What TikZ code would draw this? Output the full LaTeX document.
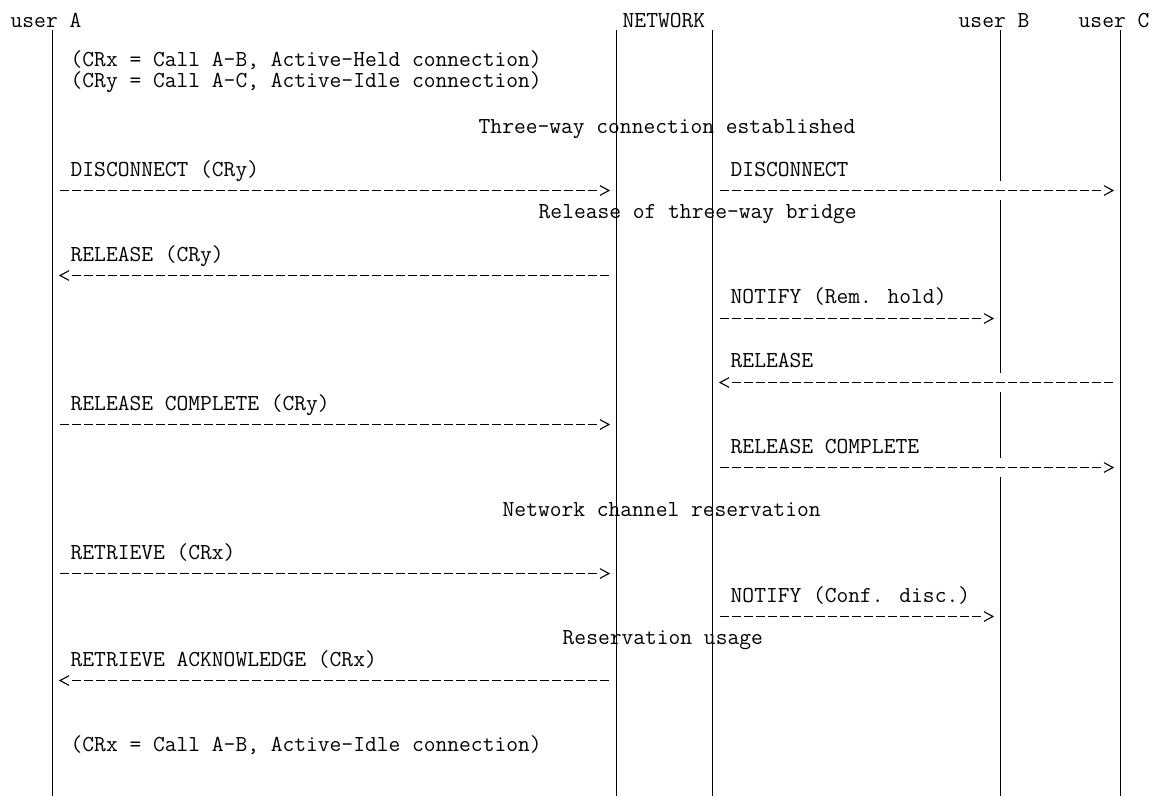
\documentclass[tikz,border=0pt]{standalone}
\usepackage{fontspec}
\newcommand\rmsg[2]{%
  \draw[dsh] ([xshift=7.5pt]#1) -- ([xshift=-19.5pt]#2);
  \draw[chev] ([xshift=-16.5pt,yshift=4.8pt]#2) -- ([xshift=-7.5pt]#2) -- ([xshift=-16.5pt,yshift=-4.8pt]#2);}
\newcommand\lmsg[2]{%
  \draw[dsh] ([xshift=19.5pt]#1) -- ([xshift=-7.5pt]#2);
  \draw[chev] ([xshift=16.5pt,yshift=4.8pt]#1) -- ([xshift=7.5pt]#1) -- ([xshift=16.5pt,yshift=-4.8pt]#1);}
\begin{document}
\begin{tikzpicture}[x=1pt,y=-1pt,
  life/.style={line width=1.8pt},
  dsh/.style={line width=1.3pt, dash pattern=on 9pt off 3pt},
  chev/.style={line width=1.1pt, line join=miter},
  lbl/.style={inner sep=0pt, anchor=base west, align=left,
    font=\ttfamily\fontsize{22.86}{18}\selectfont}]
\useasboundingbox (0,0) rectangle (1157,796);
% headers
\node[lbl] (hA) at (10.5,27) {user A};
\node[lbl] (hN) at (622.5,27) {NETWORK};
\node[lbl] (hB) at (958.5,27) {user B};
\node[lbl] (hC) at (1078.5,27) {user C};
% lifeline ends
\coordinate (At) at (52.5,30);   \coordinate (Ab) at (52.5,796);
\coordinate (N1t) at (616.5,30); \coordinate (N1b) at (616.5,796);
\coordinate (N2t) at (712.5,30); \coordinate (N2b) at (712.5,796);
\coordinate (Bt) at (1000.5,30); \coordinate (Bb) at (1000.5,796);
\coordinate (Ct) at (1120.5,30); \coordinate (Cb) at (1120.5,796);
\coordinate (Bg1a) at (1000.5,181); \coordinate (Bg1b) at (1000.5,200);
\coordinate (Bg2a) at (1000.5,372.5); \coordinate (Bg2b) at (1000.5,391.5);
\coordinate (Bg3a) at (1000.5,458); \coordinate (Bg3b) at (1000.5,477);
\draw[life] (At) -- (Ab);
\draw[life] (N1t) -- (N1b);
\draw[life] (N2t) -- (N2b);
\draw[life] (Ct) -- (Cb);
\draw[life] (Bt) -- (Bg1a) (Bg1b) -- (Bg2a) (Bg2b) -- (Bg3a) (Bg3b) -- (Bb);
% texts
\node[lbl] (t1) at (70.5,87) {(CRx = Call A-B, Active-Held connection)\\(CRy = Call A-C, Active-Idle connection)};
\node[lbl] (t3) at (478.5,133.5) {Three-way connection established};
\node[lbl] (m1) at (70.5,176.1) {DISCONNECT (CRy)};
\node[lbl] (m2) at (730.5,176.1) {DISCONNECT};
\node[lbl] (t4) at (538.5,218.7) {Release of three-way bridge};
\node[lbl] (m3) at (70.5,261.3) {RELEASE (CRy)};
\node[lbl] (m4) at (730.5,303.9) {NOTIFY (Rem. hold)};
\node[lbl] (m5) at (730.5,367.8) {RELEASE};
\node[lbl] (m6) at (70.5,410.4) {RELEASE COMPLETE (CRy)};
\node[lbl] (m7) at (730.5,453) {RELEASE COMPLETE};
\node[lbl] (t5) at (502.5,516.9) {Network channel reservation};
\node[lbl] (m8) at (70.5,559.5) {RETRIEVE (CRx)};
\node[lbl] (m9) at (730.5,602.1) {NOTIFY (Conf. disc.)};
\node[lbl] (t6) at (562.5,644.7) {Reservation usage};
\node[lbl] (m10) at (70.5,666) {RETRIEVE ACKNOWLEDGE (CRx)};
\node[lbl] (t7) at (70.5,751.2) {(CRx = Call A-B, Active-Idle connection)};
% message points
\coordinate (a8) at (52.5,190.5);  \coordinate (n1a8) at (616.5,190.5);
\coordinate (n2a8) at (712.5,190.5); \coordinate (c8) at (1120.5,190.5);
\coordinate (a12) at (52.5,275.5); \coordinate (n1a12) at (616.5,275.5);
\coordinate (n2a14) at (712.5,318.5); \coordinate (b14) at (1000.5,318.5);
\coordinate (n2a17) at (712.5,382.5); \coordinate (c17) at (1120.5,382.5);
\coordinate (a19) at (52.5,424.5); \coordinate (n1a19) at (616.5,424.5);
\coordinate (n2a21) at (712.5,467.5); \coordinate (c21) at (1120.5,467.5);
\coordinate (a26) at (52.5,573.5); \coordinate (n1a26) at (616.5,573.5);
\coordinate (n2a28) at (712.5,616.5); \coordinate (b28) at (1000.5,616.5);
\coordinate (a31) at (52.5,680.5); \coordinate (n1a31) at (616.5,680.5);
% messages
\rmsg{a8}{n1a8}
\rmsg{n2a8}{c8}
\lmsg{a12}{n1a12}
\rmsg{n2a14}{b14}
\lmsg{n2a17}{c17}
\rmsg{a19}{n1a19}
\rmsg{n2a21}{c21}
\rmsg{a26}{n1a26}
\rmsg{n2a28}{b28}
\lmsg{a31}{n1a31}
\end{tikzpicture}
\end{document}
